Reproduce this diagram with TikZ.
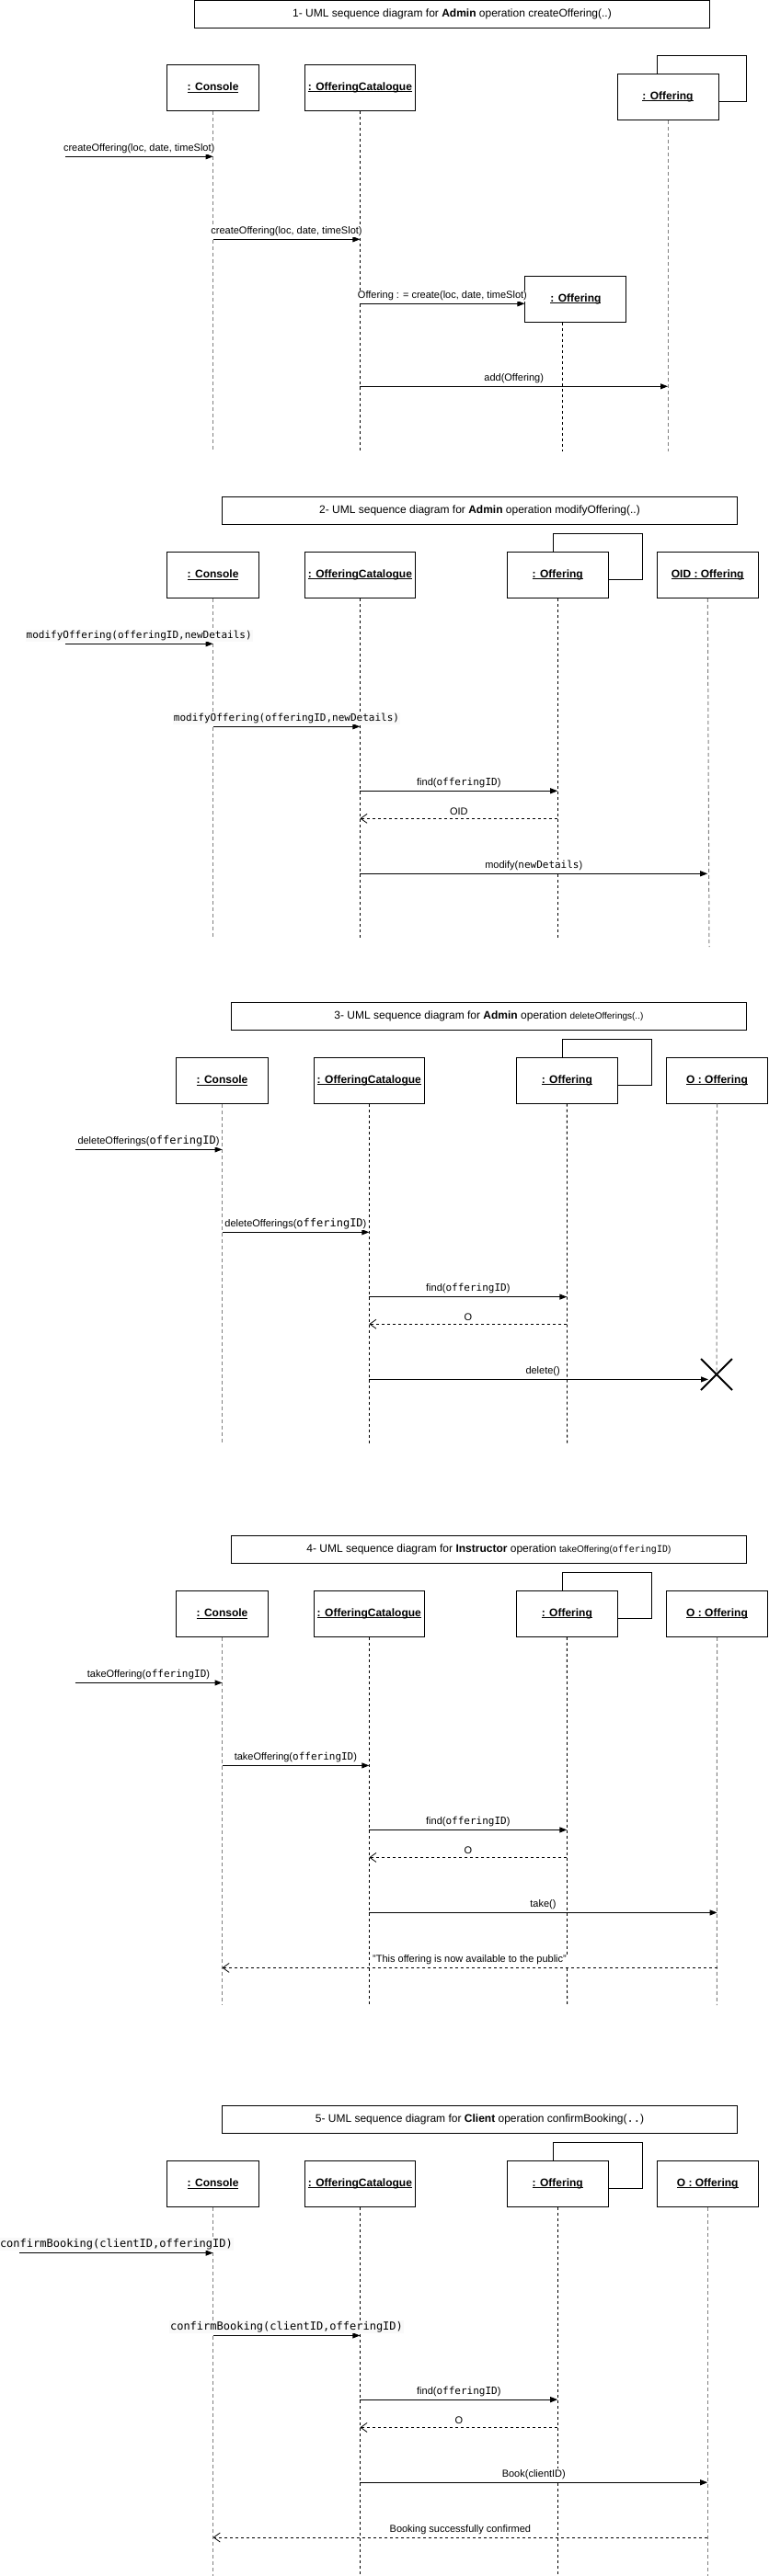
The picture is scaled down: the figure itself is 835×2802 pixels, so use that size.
\documentclass[tikz,border=0pt]{standalone}
\usepackage{fontspec}
\setmainfont{Liberation Sans}
\setmonofont{DejaVu Sans Mono}
\usetikzlibrary{positioning, calc, arrows.meta, shapes.misc}
\newcommand{\pxsize}[1]{\fontsize{#1pt}{#1pt}\selectfont}
\newcommand{\objname}[1]{\textbf{\setbox0\hbox{#1}\rlap{\rule[-1.6pt]{\wd0}{0.8pt}}\box0}}

\begin{document}
\begin{tikzpicture}[x=1pt, y=-1pt,
	obj/.style={draw, line width=1pt, fill=white, minimum height=50pt, inner sep=0pt, font=\pxsize{12}},
	titlebox/.style={draw, line width=1pt, minimum width=560pt, minimum height=30pt, inner sep=0pt, font=\pxsize{12}},
	life/.style={line width=0.8pt, dash pattern=on 3pt off 3pt},
	lifeg/.style={line width=1pt, draw=gray, dash pattern=on 4pt off 3pt},
	call/.style={line width=1pt, -{Triangle[length=8pt, width=6pt]}},
	reply/.style={line width=0.8pt, dash pattern=on 3pt off 3pt, -{Straight Barb[length=7pt, width=10pt]}},
	lbl/.style={midway, above, yshift=2pt, inner sep=1pt, fill=white, font=\pxsize{11}},
	code/.style={lbl, fill=gray!5, font=\ttfamily\pxsize{#1}},
	kill/.style={draw, cross out, line width=2pt, minimum size=32pt, inner sep=0pt},
]
\useasboundingbox (0, 0) rectangle (835, 2802);

\foreach \s/\cx/\ty/\ly in {1/231.6/95.3/490.7, 2/231.6/625.3/1020, 3/241.5/1175.2/1570, 4/241.5/1755.4/2181, 5/231.6/2375.3/2802} {
	\node[obj, minimum width=100pt] (con\s) at (\cx, \ty) {\objname{: Console}};
	\node[obj, minimum width=120pt] (cat\s) at (\cx+159.8, \ty) {\objname{: OfferingCatalogue}};
	\coordinate (con\s-end) at (\cx, \ly);
	\coordinate (cat\s-end) at (\cx+159.8, \ly);
	\draw[lifeg] (con\s) -- (con\s-end);
	\draw[life] (cat\s) -- (cat\s-end);
}

\node[titlebox] (title1) at (491.5, 15.5) {1- UML sequence diagram for \textbf{Admin} operation createOffering(..)};
\node[obj, minimum width=97pt] (off1-back) at (762.8, 85.3) {};
\node[obj, minimum width=110pt] (off1) at (726, 105.3) {\objname{: Offering}};
\node[obj, minimum width=110pt] (new1) at (625.9, 325.3) {\objname{: Offering}};
\coordinate (off1-end) at (726, 490.7);
\coordinate (new1-end) at (611.5, 490.7);
\draw[lifeg] (off1) -- (off1-end);
\draw[life] (new1.south -| new1-end) -- (new1-end);
\foreach \n/\y in {1/170.3, 2/260.3, 3/330.3, 4/420.3}
	\coordinate (s1m\n) at (0, \y);
\coordinate (admin1) at (70.8, 170.3);
\draw[call] (admin1) -- (con1 |- s1m1) node[lbl] {createOffering(loc, date, timeSlot)};
\draw[call] (con1 |- s1m2) -- (cat1 |- s1m2) node[lbl] {createOffering(loc, date, timeSlot)};
\draw[call] (cat1 |- s1m3) -- (new1.west |- s1m3) node[lbl] {Offering : = create(loc, date, timeSlot)};
\draw[call] (cat1 |- s1m4) -- (off1 |- s1m4) node[lbl] {add(Offering)};

\node[titlebox] (title2) at (521.5, 555.3) {2- UML sequence diagram for \textbf{Admin} operation modifyOffering(..)};
\node[obj, minimum width=97pt] (off2-back) at (649.9, 605.3) {};
\node[obj, minimum width=110pt] (off2) at (606.2, 625.3) {\objname{: Offering}};
\node[obj, minimum width=110pt] (oid2) at (769.2, 625.3) {\objname{OID : Offering}};
\coordinate (off2-end) at (606.2, 1020);
\coordinate (oid2-end) at (771, 1030);
\draw[life] (off2) -- (off2-end);
\draw[lifeg] (oid2) -- (oid2-end);
\foreach \n/\y in {1/700.3, 2/790.3, 3/860.3, 4/890.3, 5/950.3}
	\coordinate (s2m\n) at (0, \y);
\coordinate (admin2) at (70.8, 700.3);
\draw[call] (admin2) -- (con2 |- s2m1) node[code=11] {modifyOffering(offeringID,newDetails)};
\draw[call] (con2 |- s2m2) -- (cat2 |- s2m2) node[code=11] {modifyOffering(offeringID,newDetails)};
\draw[call] (cat2 |- s2m3) -- (off2 |- s2m3) node[lbl] {find(\texttt{offeringID})};
\draw[reply] (off2 |- s2m4) -- (cat2 |- s2m4) node[lbl] {OID};
\draw[call] (cat2 |- s2m5) -- (oid2 |- s2m5) node[lbl] {modify(\texttt{newDetails})};

\node[titlebox] (title3) at (531.4, 1105.3) {3- UML sequence diagram for \textbf{Admin} operation {\pxsize{10}deleteOfferings(..)}};
\node[obj, minimum width=97pt] (off3-back) at (659.75, 1155.25) {};
\node[obj, minimum width=110pt] (off3) at (616.35, 1175.2) {\objname{: Offering}};
\node[obj, minimum width=110pt] (o3) at (779.55, 1175.2) {\objname{O : Offering}};
\node[kill] (x3) at (779, 1495) {};
\coordinate (off3-end) at (616.6, 1570);
\draw[life] (off3) -- (off3-end);
\draw[lifeg] (o3) -- (x3.center);
\foreach \n/\y in {1/1250.4, 2/1340.3, 3/1410.6, 4/1440.2, 5/1500.4}
	\coordinate (s3m\n) at (0, \y);
\coordinate (admin3) at (81.5, 1250.4);
\draw[call] (admin3) -- (con3 |- s3m1) node[lbl] {deleteOfferings({\ttfamily\pxsize{12}offeringID})};
\draw[call] (con3 |- s3m2) -- (cat3 |- s3m2) node[lbl] {deleteOfferings({\ttfamily\pxsize{12}offeringID})};
\draw[call] (cat3 |- s3m3) -- (off3 |- s3m3) node[lbl] {find(\texttt{offeringID})};
\draw[reply] (off3 |- s3m4) -- (cat3 |- s3m4) node[lbl] {O};
\draw[call, shorten >=9pt] (cat3 |- s3m5) -- (x3 |- s3m5) node[lbl] {delete()};

\node[titlebox] (title4) at (531.4, 1685.4) {4- UML sequence diagram for \textbf{Instructor} operation {\pxsize{10}takeOffering(\texttt{offeringID})}};
\node[obj, minimum width=97pt] (off4-back) at (659.75, 1735.4) {};
\node[obj, minimum width=110pt] (off4) at (616.35, 1755.4) {\objname{: Offering}};
\node[obj, minimum width=110pt] (o4) at (779.55, 1755.4) {\objname{O : Offering}};
\coordinate (off4-end) at (616.6, 2181);
\coordinate (o4-end) at (779.3, 2181);
\draw[life] (off4) -- (off4-end);
\draw[lifeg] (o4) -- (o4-end);
\foreach \n/\y in {1/1830.4, 2/1920.4, 3/1990.4, 4/2020.4, 5/2080.4, 6/2140.4}
	\coordinate (s4m\n) at (0, \y);
\coordinate (admin4) at (81.5, 1830.4);
\draw[call] (admin4) -- (con4 |- s4m1) node[lbl] {takeOffering(\texttt{offeringID})};
\draw[call] (con4 |- s4m2) -- (cat4 |- s4m2) node[lbl] {takeOffering(\texttt{offeringID})};
\draw[call] (cat4 |- s4m3) -- (off4 |- s4m3) node[lbl] {find(\texttt{offeringID})};
\draw[reply] (off4 |- s4m4) -- (cat4 |- s4m4) node[lbl] {O};
\draw[call] (cat4 |- s4m5) -- (o4 |- s4m5) node[lbl] {take()};
\draw[reply] (o4 |- s4m6) -- (con4 |- s4m6) node[lbl] {"This offering is now available to the public"};

\node[titlebox] (title5) at (521.5, 2305.45) {5- UML sequence diagram for \textbf{Client} operation confirmBooking(\texttt{..})};
\node[obj, minimum width=97pt] (off5-back) at (649.9, 2355.25) {};
\node[obj, minimum width=110pt] (off5) at (606.2, 2375.3) {\objname{: Offering}};
\node[obj, minimum width=110pt] (o5) at (769.2, 2375.3) {\objname{O : Offering}};
\coordinate (off5-end) at (606.2, 2802);
\coordinate (o5-end) at (769.2, 2802);
\draw[life] (off5) -- (off5-end);
\draw[lifeg] (o5) -- (o5-end);
\foreach \n/\y in {1/2450.6, 2/2540.4, 3/2610.1, 4/2640.4, 5/2700.2, 6/2760}
	\coordinate (s5m\n) at (0, \y);
\coordinate (client5) at (21.3, 2450.6);
\draw[call] (client5) -- (con5 |- s5m1) node[code=12] {confirmBooking(clientID,offeringID)};
\draw[call] (con5 |- s5m2) -- (cat5 |- s5m2) node[code=12] {confirmBooking(clientID,offeringID)};
\draw[call] (cat5 |- s5m3) -- (off5 |- s5m3) node[lbl] {find(\texttt{offeringID})};
\draw[reply] (off5 |- s5m4) -- (cat5 |- s5m4) node[lbl] {O};
\draw[call] (cat5 |- s5m5) -- (o5 |- s5m5) node[lbl] {Book(clientID)};
\draw[reply] (o5 |- s5m6) -- (con5 |- s5m6) node[lbl] {Booking successfully confirmed};
\end{tikzpicture}
\end{document}
